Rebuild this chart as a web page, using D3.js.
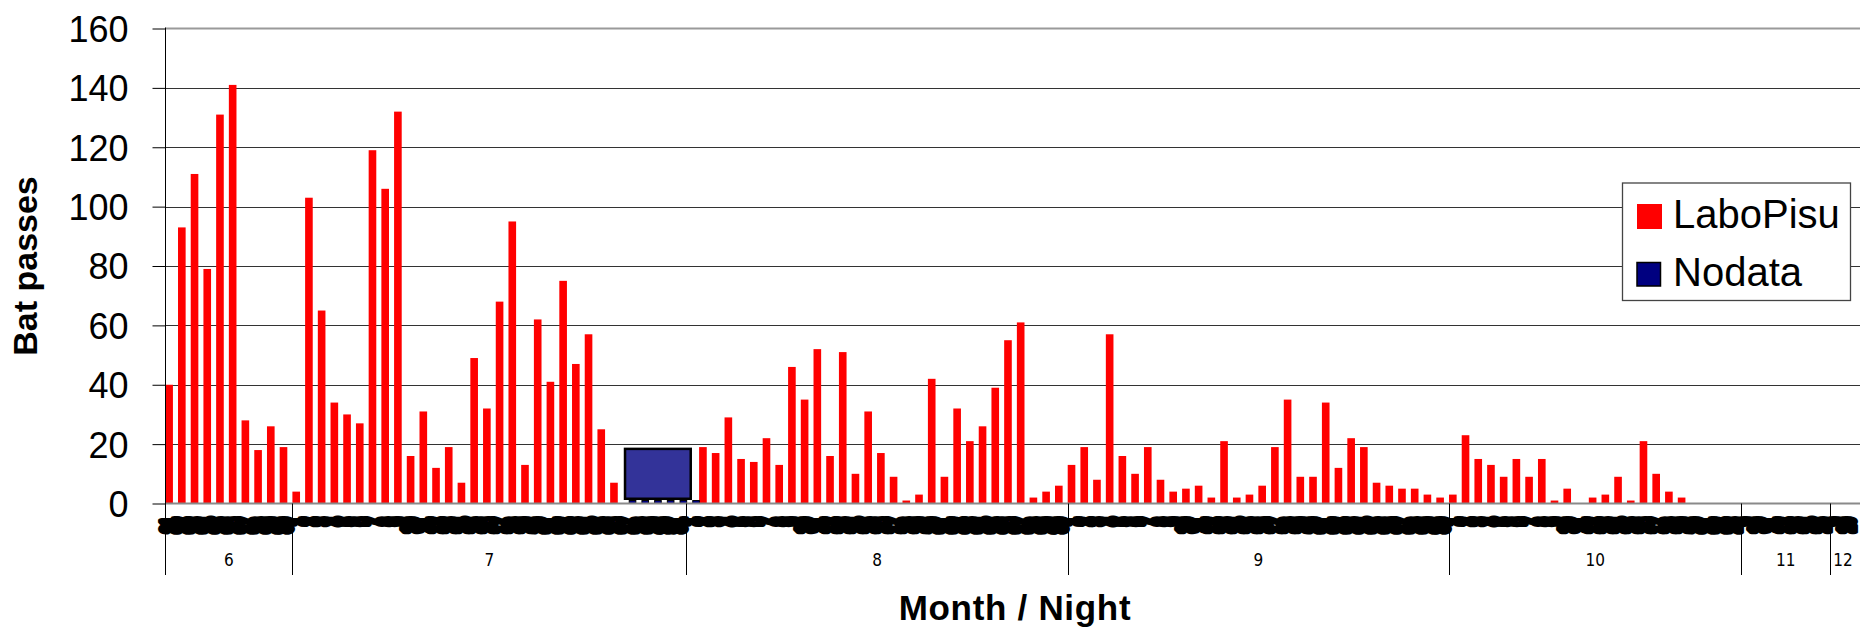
<!DOCTYPE html>
<html><head><meta charset="utf-8">
<script src="https://cdn.jsdelivr.net/npm/d3@7"></script>
<style>html,body{margin:0;padding:0;background:#fff;overflow:hidden}</style>
</head><body>
<svg id="c" width="1860" height="628"></svg>
<script>
// ---------- data ----------
const months = ["6", "7", "8", "9", "10", "11", "12"];
const nightsJun = ["21","22","23","24","25","26","27","28","29","30"];
const nightsJul = ["1","2","3","4","5","6","7","8","9","10","11","12","13","14","15","16","17","18","19","20","21","22","23","24","25","26","27","28","29","30","31"];
const nightsAug = ["1","2","3","4","5","6","7","8","9","10","11","12","13","14","15","16","17","18","19","20","21","22","23","24","25","26","27","28","29","30"];
const nightsSep = ["1","2","3","4","5","6","7","8","9","10","11","12","13","14","15","16","17","18","19","20","21","22","23","24","25","26","27","28","29","30"];
const nightsOct = ["1","2","3","4","5","6","7","8","9","10","11","12","13","14","15","16","17","18","19","20","21","22","23"];
const nightsNov = ["9","10","11","12","13","14","15"];
const nightsDec = ["9","10"];

// LaboPisu bat passes per night (null = no data)
const pisuJun = [40, 93, 111, 79, 131, 141, 28, 18, 26, 19];
const pisuJul = [4, 103, 65, 34, 30, 27, 119, 106, 132, 16, 31, 12, 19, 7, 49, 32, 68, 95, 13, 62, 41, 75, 47, 57, 25, 7, null, null, null, null, null];
const pisuAug = [null, 19, 17, 29, 15, 14, 22, 13, 46, 35, 52, 16, 51, 10, 31, 17, 9, 1, 3, 42, 9, 32, 21, 26, 39, 55, 61, 2, 4, 6];
const pisuSep = [13, 19, 8, 57, 16, 10, 19, 8, 4, 5, 6, 2, 21, 2, 3, 6, 19, 35, 9, 9, 34, 12, 22, 19, 7, 6, 5, 5, 3, 2];
const pisuOct = [3, 23, 15, 13, 9, 15, 9, 15, 1, 5, 0, 2, 3, 9, 1, 21, 10, 4, 2, 0, 0, 0, 0];
const pisuNov = [0, 0, 0, 0, 0, 0, 0];
const pisuDec = [0, 0];

// Nodata series: night indices and values
const nodataIdx = [36, 37, 38, 39, 40, 41];
const nodataVal = [1, 1, 1, 1, 1, 1];
const nodataBoxRange = [1.6, 18.4];

const yTicks = [0, 20, 40, 60, 80, 100, 120, 140, 160];
const seriesNames = ["LaboPisu", "Nodata"];

// ---------- build ----------
const monthNights = [nightsJun, nightsJul, nightsAug, nightsSep, nightsOct, nightsNov, nightsDec];
const nights = [].concat(...monthNights);
const pisu = [].concat(pisuJun, pisuJul, pisuAug, pisuSep, pisuOct, pisuNov, pisuDec);
const idx = d3.range(nights.length);

const X0 = 165.3, STEP = 12.71;
const x = d3.scaleBand().domain(idx).range([X0, X0 + STEP * idx.length]).padding(0);
const y = d3.scaleLinear().domain([0, 160]).range([503.5, 28.5]);
const step = x.step();

const svg = d3.select("#c");
const FONT = "'Liberation Sans', Arial, Helvetica, sans-serif";
const NARROW = "'Liberation Sans Narrow', 'Arial Narrow', 'DejaVu Sans Condensed', sans-serif";

// gridlines
svg.append("g").selectAll("line").data(yTicks.filter(v => v > 0 && v < 160)).join("line")
  .attr("x1", X0).attr("x2", 1860)
  .attr("y1", d => Math.round(y(d)) + 0.5).attr("y2", d => Math.round(y(d)) + 0.5)
  .attr("stroke", "#333").attr("stroke-width", 1);
// top border
svg.append("line").attr("x1", X0).attr("x2", 1860).attr("y1", y(160)).attr("y2", y(160))
  .attr("stroke", "#9a9a9a").attr("stroke-width", 2);

// LaboPisu bars
const barW = step * 0.6;
svg.append("g").selectAll("rect").data(idx.filter(i => pisu[i] != null && pisu[i] > 0)).join("rect")
  .attr("x", i => x(i)).attr("width", barW)
  .attr("y", i => y(pisu[i])).attr("height", i => y(0) - y(pisu[i]))
  .attr("fill", "#ff0000");

// Nodata box
svg.append("rect")
  .attr("x", x(nodataIdx[0]) + step * 0.17)
  .attr("width", x(nodataIdx[nodataIdx.length - 1]) + step * 0.34 - (x(nodataIdx[0]) + step * 0.17))
  .attr("y", y(nodataBoxRange[1]))
  .attr("height", y(nodataBoxRange[0]) - y(nodataBoxRange[1]))
  .attr("fill", "#333399").attr("stroke", "#000").attr("stroke-width", 2.5);
// Nodata small bars
svg.append("g").selectAll("rect").data(nodataIdx).join("rect")
  .attr("x", (d) => x(d) + step * 0.5).attr("width", step * 0.52)
  .attr("y", (d, k) => y(nodataVal[k])).attr("height", (d, k) => y(0) - y(nodataVal[k]))
  .attr("fill", "#000080").attr("stroke", "#000").attr("stroke-width", 1);

// x axis baseline
svg.append("line").attr("x1", X0).attr("x2", 1860).attr("y1", y(0)).attr("y2", y(0))
  .attr("stroke", "#8a8a8a").attr("stroke-width", 2);

// y axis
const yAxis = d3.axisLeft(y).tickValues(yTicks).tickSize(13).tickPadding(24).tickSizeOuter(0);
const ga = svg.append("g").attr("transform", "translate(165.5,0)").call(yAxis);
ga.select(".domain").remove();
ga.selectAll(".tick line").attr("stroke", "#000");
ga.selectAll(".tick text").attr("font-family", FONT).attr("font-size", 36).attr("fill", "#000").attr("dy", "0.36em");
svg.append("line").attr("x1", 165.5).attr("x2", 165.5).attr("y1", y(160) - 1).attr("y2", 575)
  .attr("stroke", "#000").attr("stroke-width", 1);

// night labels (heavily overlapping rotated labels forming a dense black band)
svg.append("g").selectAll("text").data(idx).join("text")
  .attr("transform", i => `translate(${x(i) + step / 2 - 3},518) rotate(-90) scale(0.6,1)`)
  .attr("text-anchor", "end").attr("dy", "0.36em")
  .attr("font-family", FONT).attr("font-weight", "bold").attr("font-size", 22)
  .attr("fill", "#000").attr("stroke", "#000").attr("stroke-width", 8)
  .attr("stroke-linejoin", "round")
  .text(i => nights[i]);

// month boundaries & labels
let start = 0;
const mInfo = monthNights.map((m, k) => { const s = start; start += m.length; return { name: months[k], s, e: start }; });
svg.append("g").selectAll("line").data(mInfo.slice(1)).join("line")
  .attr("x1", d => Math.round(x(d.s)) + 0.5).attr("x2", d => Math.round(x(d.s)) + 0.5)
  .attr("y1", y(0)).attr("y2", 575).attr("stroke", "#000").attr("stroke-width", 1);
svg.append("g").selectAll("text").data(mInfo).join("text")
  .attr("x", d => {
    const a = x(d.s), b = Math.min(x(d.e - 1) + step, 1860);
    return (a + b) / 2;
  })
  .attr("y", 566).attr("text-anchor", "middle")
  .attr("font-family", NARROW).attr("font-size", 17).attr("fill", "#000")
  .text(d => d.name);

// titles
svg.append("text").attr("transform", "translate(37,266) rotate(-90)")
  .attr("text-anchor", "middle").attr("font-family", FONT).attr("font-weight", "bold")
  .attr("font-size", 34).text("Bat passes");
svg.append("text").attr("x", 1015).attr("y", 620).attr("text-anchor", "middle")
  .attr("font-family", FONT).attr("font-weight", "bold").attr("font-size", 35)
  .attr("letter-spacing", 0.7).text("Month / Night");

// legend
const lg = svg.append("g");
lg.append("rect").attr("x", 1622.5).attr("y", 183).attr("width", 228).attr("height", 117.5)
  .attr("fill", "#fff").attr("stroke", "#444").attr("stroke-width", 1.3);
lg.append("rect").attr("x", 1637).attr("y", 204).attr("width", 25).attr("height", 25).attr("fill", "#ff0000");
lg.append("rect").attr("x", 1637).attr("y", 262.5).attr("width", 23.5).attr("height", 23.5)
  .attr("fill", "#000080").attr("stroke", "#000").attr("stroke-width", 1.5);
lg.selectAll("text.lt").data(seriesNames).join("text").attr("class", "lt")
  .attr("x", 1673).attr("y", (d, k) => k === 0 ? 227.5 : 286)
  .attr("font-family", FONT).attr("font-size", 40).attr("fill", "#000").text(d => d);
</script>
</body></html>
